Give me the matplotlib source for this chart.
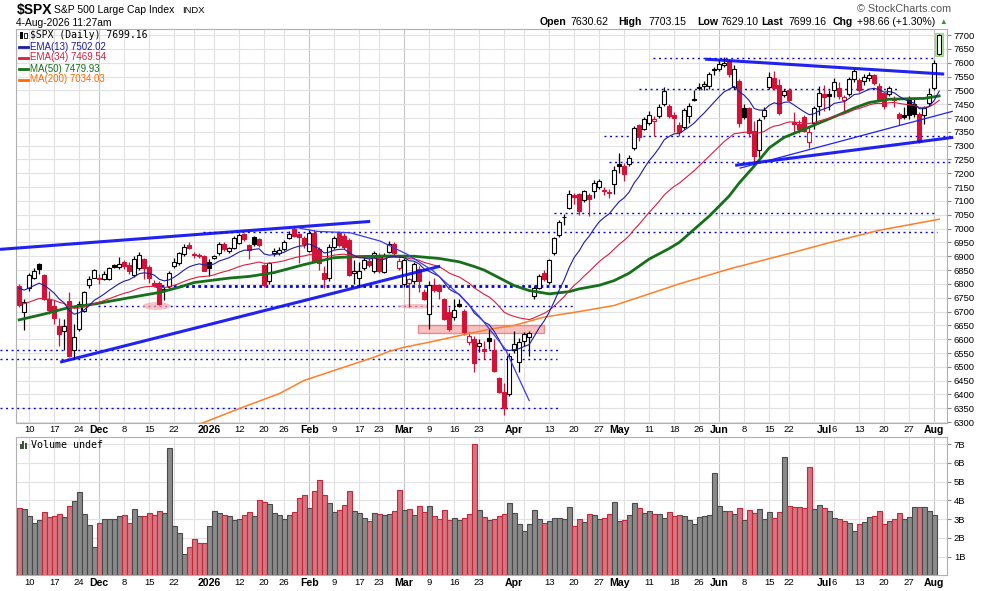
import numpy as np
import pandas as pd
import matplotlib
matplotlib.use('Agg')
import matplotlib.pyplot as plt
from matplotlib.patches import Rectangle, Ellipse
from matplotlib.lines import Line2D

plt.rcParams['font.family'] = ['Liberation Sans', 'DejaVu Sans']

# trading calendar
first_day, last_day = '2025-11-06', '2026-08-04'
holidays = ['2025-11-27', '2025-12-25', '2026-01-01', '2026-01-19', '2026-02-16',
            '2026-04-03', '2026-05-25', '2026-06-19', '2026-07-03']

# daily OHLC
open_ = [6793, 6700, 6787, 6821, 6871, 6831, 6745, 6720, 6649, 6629,
         6739, 6561, 6637, 6701, 6796, 6823, 6822, 6817, 6817, 6870,
         6862, 6880, 6870, 6833, 6859, 6889, 6862, 6805, 6805, 6781,
         6793, 6865, 6874, 6907, 6941, 6908, 6903, 6901, 6881, 6893,
         6910, 6946, 6918, 6929, 6949, 6979, 6940, 6971, 6961, 6868,
         6811, 6910, 6913, 6925, 6967, 6997, 6980, 6965, 6919, 6985,
         6925, 6841, 6820, 6934, 6985, 6975, 6960, 6840, 6823, 6859,
         6882, 6847, 6901, 6844, 6917, 6943, 6859, 6799, 6803, 6811,
         6853, 6772, 6691, 6796, 6795, 6745, 6697, 6679, 6727, 6703,
         6589, 6601, 6577, 6563, 6604, 6562, 6460, 6410, 6403, 6560,
         6517, 6592, 6607, 6757, 6787, 6841, 6808, 6911, 6976, 7043,
         7075, 7120, 7124, 7103, 7120, 7135, 7151, 7138, 7128, 7160,
         7235, 7228, 7232, 7292, 7376, 7360, 7382, 7388, 7408, 7450,
         7444, 7412, 7376, 7368, 7406, 7468, 7508, 7516, 7516, 7576,
         7576, 7592, 7605, 7511, 7534, 7436, 7436, 7352, 7285, 7408,
         7512, 7544, 7520, 7484, 7502, 7385, 7380, 7405, 7312, 7382,
         7442, 7486, 7486, 7502, 7508, 7466, 7488, 7540, 7538, 7535,
         7545, 7556, 7515, 7490, 7488, 7470, 7415, 7410, 7466, 7452,
         7415, 7412, 7454, 7508, 7630.62]
high = [6800, 6745, 6841, 6857, 6874, 6835, 6775, 6740, 6675, 6673,
        6771, 6655, 6737, 6775, 6829, 6853, 6835, 6847, 6861, 6873,
        6897, 6885, 6878, 6901, 6915, 6895, 6868, 6815, 6810, 6790,
        6848, 6895, 6915, 6945, 6950, 6915, 6910, 6905, 6890, 6905,
        6950, 6950, 6935, 6975, 6985, 6985, 6945, 6975, 6965, 6872,
        6880, 6930, 6935, 6960, 6990, 7005, 6985, 6975, 6995, 6995,
        6935, 6865, 6945, 6975, 6990, 6985, 6965, 6885, 6880, 6900,
        6895, 6920, 6910, 6910, 6955, 6950, 6895, 6895, 6820, 6878,
        6865, 6780, 6810, 6820, 6800, 6750, 6715, 6745, 6745, 6710,
        6625, 6610, 6600, 6595, 6637, 6600, 6465, 6440, 6550, 6630,
        6605, 6625, 6630, 6792, 6835, 6850, 6890, 6970, 7030, 7052,
        7140, 7130, 7130, 7140, 7130, 7175, 7180, 7150, 7145, 7228,
        7272, 7238, 7266, 7370, 7380, 7402, 7425, 7406, 7452, 7512,
        7452, 7420, 7385, 7435, 7456, 7502, 7525, 7535, 7565, 7586,
        7610, 7620, 7612, 7592, 7540, 7450, 7440, 7388, 7400, 7440,
        7565, 7570, 7540, 7505, 7510, 7420, 7392, 7410, 7370, 7445,
        7515, 7520, 7500, 7545, 7530, 7482, 7550, 7580, 7545, 7560,
        7565, 7560, 7525, 7495, 7516, 7480, 7420, 7440, 7478, 7470,
        7420, 7445, 7510, 7610, 7703.15]
low = [6715, 6633, 6775, 6817, 6835, 6741, 6690, 6655, 6577, 6561,
       6535, 6529, 6631, 6697, 6787, 6821, 6801, 6813, 6813, 6857,
       6855, 6855, 6835, 6826, 6850, 6817, 6805, 6790, 6722, 6740,
       6785, 6858, 6870, 6900, 6925, 6895, 6895, 6845, 6830, 6890,
       6905, 6920, 6912, 6925, 6945, 6955, 6890, 6938, 6935, 6790,
       6800, 6900, 6905, 6920, 6962, 6970, 6875, 6930, 6915, 6880,
       6850, 6784, 6810, 6925, 6935, 6925, 6828, 6800, 6790, 6850,
       6860, 6840, 6840, 6838, 6910, 6905, 6850, 6790, 6715, 6800,
       6770, 6740, 6637, 6770, 6745, 6670, 6630, 6670, 6715, 6615,
       6580, 6480, 6555, 6530, 6565, 6482, 6405, 6325, 6395, 6550,
       6480, 6575, 6540, 6745, 6780, 6812, 6800, 6905, 6970, 7012,
       7070, 7090, 7050, 7095, 7045, 7110, 7145, 7120, 7112, 7124,
       7202, 7172, 7225, 7285, 7318, 7355, 7375, 7334, 7400, 7445,
       7400, 7348, 7336, 7360, 7383, 7460, 7500, 7500, 7505, 7556,
       7570, 7585, 7550, 7505, 7368, 7395, 7330, 7238, 7258, 7398,
       7505, 7500, 7410, 7475, 7460, 7345, 7345, 7350, 7292, 7362,
       7412, 7424, 7430, 7475, 7470, 7418, 7480, 7530, 7495, 7520,
       7535, 7520, 7460, 7432, 7478, 7440, 7375, 7395, 7395, 7405,
       7310, 7380, 7445, 7500, 7629.10]
close = [6722, 6733, 6833, 6847, 6853, 6745, 6705, 6677, 6619, 6647,
         6541, 6607, 6727, 6769, 6817, 6851, 6817, 6835, 6859, 6862,
         6872, 6864, 6847, 6889, 6905, 6859, 6823, 6797, 6727, 6775,
         6838, 6881, 6910, 6935, 6929, 6905, 6900, 6847, 6859, 6901,
         6946, 6925, 6930, 6967, 6977, 6961, 6922, 6943, 6941, 6796,
         6877, 6920, 6922, 6952, 6979, 6975, 6970, 6945, 6985, 6883,
         6877, 6817, 6934, 6967, 6940, 6932, 6832, 6845, 6847, 6886,
         6870, 6913, 6847, 6901, 6946, 6910, 6883, 6886, 6817, 6871,
         6811, 6745, 6796, 6779, 6775, 6673, 6637, 6706, 6719, 6625,
         6613, 6514, 6587, 6559, 6595, 6484, 6410, 6352, 6541, 6581,
         6589, 6619, 6622, 6787, 6827, 6817, 6887, 6967, 7024, 7041,
         7126, 7113, 7064, 7135, 7106, 7165, 7171, 7135, 7133, 7212,
         7226, 7196, 7256, 7364, 7331, 7396, 7410, 7396, 7440, 7496,
         7408, 7400, 7348, 7428, 7442, 7464, 7514, 7524, 7558, 7574,
         7596, 7600, 7560, 7577, 7382, 7403, 7346, 7264, 7394, 7430,
         7550, 7508, 7418, 7499, 7466, 7378, 7360, 7352, 7350, 7435,
         7492, 7475, 7478, 7532, 7478, 7476, 7540, 7570, 7502, 7547,
         7555, 7528, 7470, 7442, 7508, 7465, 7400, 7405, 7412, 7415,
         7316, 7436, 7486, 7598, 7699.16]
prev_close_start = 6800

# volume in billions (today's volume is undefined)
volume = [3.58, 3.53, 3.17, 2.78, 2.96, 3.37, 3.10, 3.17, 3.26, 3.10,
          3.69, 3.97, 4.45, 3.26, 2.67, 1.50, 2.78, 2.99, 2.99, 2.99,
          3.15, 3.20, 2.78, 3.53, 3.15, 3.15, 3.31, 3.20, 3.42, 3.31,
          6.78, 2.62, 2.24, 1.12, 1.50, 1.92, 1.71, 1.71, 2.62, 3.42,
          3.31, 3.20, 3.15, 2.96, 2.99, 3.20, 3.37, 3.15, 4.00, 3.92,
          3.79, 3.31, 3.20, 2.99, 3.20, 3.37, 4.11, 4.27, 3.58, 4.48,
          5.07, 4.27, 3.84, 3.37, 3.47, 3.74, 4.48, 3.42, 3.31, 3.04,
          2.88, 3.31, 3.26, 3.20, 3.26, 3.42, 4.54, 3.47, 3.53, 3.20,
          3.69, 3.37, 3.69, 3.15, 2.99, 3.47, 2.94, 3.04, 2.94, 3.04,
          3.26, 7.00, 3.47, 3.10, 2.94, 2.99, 3.15, 3.26, 3.84, 3.31,
          2.72, 2.35, 2.72, 3.47, 2.99, 2.78, 2.88, 3.04, 3.04, 2.99,
          3.63, 2.62, 2.99, 2.83, 3.26, 3.20, 2.99, 3.04, 3.26, 3.90,
          2.88, 2.94, 3.20, 3.84, 3.58, 3.31, 3.42, 3.26, 3.26, 3.04,
          3.37, 3.15, 3.20, 3.15, 2.94, 2.72, 3.10, 3.15, 3.20, 5.45,
          3.69, 3.42, 3.42, 3.26, 3.58, 2.94, 3.47, 3.31, 3.53, 2.99,
          3.37, 3.04, 3.37, 6.30, 3.69, 3.63, 3.63, 3.58, 5.77, 3.53,
          3.74, 3.58, 3.42, 3.04, 2.99, 2.88, 2.78, 2.35, 2.72, 2.83,
          3.10, 3.15, 3.42, 2.72, 2.88, 2.99, 3.31, 2.99, 3.10, 3.63,
          3.63, 3.63, 3.42, 3.20, np.nan]

# indicator starting values and moving-average readings (day index, value)
ema13_start, ema34_start = 6785, 6728
ma50_day = [0, 5, 10, 15, 22, 28, 32, 35, 42, 46, 51, 57, 63, 68, 74, 79, 84, 88,
            91, 93, 96, 99, 102, 106, 110, 112, 116, 119, 122, 126, 130, 132, 138,
            142, 144, 147, 150, 153, 156, 160, 164, 167, 170, 174, 178, 181, 184]
ma50_val = [6670, 6691, 6715, 6727, 6750, 6769, 6788, 6805, 6821, 6827, 6841, 6870,
            6895, 6899, 6901, 6900, 6892, 6880, 6863, 6850, 6822, 6794, 6776, 6764,
            6772, 6782, 6795, 6812, 6839, 6890, 6928, 6950, 7045, 7118, 7165, 7226,
            7292, 7330, 7352, 7382, 7412, 7436, 7456, 7468, 7470, 7471, 7480]
ma200_day = [36, 44, 52, 57, 64, 71, 74, 77, 82, 88, 94, 99, 105, 112, 119, 122,
             132, 142, 154, 162, 172, 184]
ma200_val = [6292, 6349, 6403, 6451, 6493, 6535, 6556, 6571, 6589, 6613, 6636, 6650,
             6680, 6700, 6722, 6740, 6800, 6854, 6910, 6949, 6994, 7034]

# hand drawn annotations (day index, price)
thick_lines = [[(-3.83, 6925), (70.2, 7026)],
               [(8.2, 6517), (84.2, 6864)],
               [(137.2, 7613), (185.0, 7559)],
               [(143.2, 7229), (186.8, 7330)]]
thin_line = [(144.2, 7219), (186.6, 7424)]
arc_day = [56.2, 59.6, 66.2, 72.2, 77.6, 82.8, 88.2, 92.2, 97.2, 102.0]
arc_price = [7001, 6990, 6985, 6955, 6907, 6847, 6757, 6679, 6565, 6378]
# (price, first day, last day, heavy)
level_lines = [(7616, 126.8, 182.8, False), (7504, 124.0, 176.2, False),
               (7334, 117.0, 186.8, False), (7241, 118.0, 186.8, False),
               (7055, 107.0, 183.5, False), (6989, 36.8, 183.5, False),
               (6793, 27.2, 110.2, True), (6719, 15.8, 111.2, False),
               (6561, -3.83, 108.2, False), (6528, -3.83, 107.6, False),
               (6351, -3.83, 107.8, False)]

tick_dates = ['2025-11-10', '2025-11-17', '2025-11-24', '2025-12-01', '2025-12-08',
              '2025-12-15', '2025-12-22', '2026-01-02', '2026-01-12', '2026-01-20',
              '2026-01-26', '2026-02-02', '2026-02-09', '2026-02-17', '2026-02-23',
              '2026-03-02', '2026-03-09', '2026-03-16', '2026-03-23', '2026-04-01',
              '2026-04-13', '2026-04-20', '2026-04-27', '2026-05-01', '2026-05-11',
              '2026-05-18', '2026-05-26', '2026-06-01', '2026-06-08', '2026-06-15',
              '2026-06-22', '2026-07-01', '2026-07-06', '2026-07-13', '2026-07-20',
              '2026-07-27', '2026-08-03']
tick_text = ['10', '17', '24', 'Dec', '8', '15', '22', '2026', '12', '20', '26', 'Feb',
             '9', '17', '23', 'Mar', '9', '16', '23', 'Apr', '13', '20', '27', 'May',
             '11', '18', '26', 'Jun', '8', '15', '22', 'Jul', '6', '13', '20', '27', 'Aug']

days = pd.bdate_range(first_day, last_day)
days = days[~days.isin(pd.to_datetime(holidays))]
x = np.arange(len(days))
o, h, l, c = (np.array(v, float) for v in (open_, high, low, close))
prev = np.concatenate([[prev_close_start], c[:-1]])

def ema(values, span, start):
    k = 2 / (span + 1)
    out = [start]
    for v in values[1:]:
        out.append(out[-1] + k * (v - out[-1]))
    return np.array(out)

ema13 = ema(c, 13, ema13_start)
ema34 = ema(c, 34, ema34_start)

W, H = 990, 591
fig = plt.figure(figsize=(W / 100, H / 100), dpi=100)
fig.patch.set_facecolor('white')

def rect(x0, y0, x1, y1):
    return [x0 / W, 1 - y1 / H, (x1 - x0) / W, (y1 - y0) / H]

def ftext(px, py, s, **kw):
    kw.setdefault('va', 'center')
    fig.text(px / W, 1 - py / H, s, **kw)

ax = fig.add_axes(rect(16, 29, 947, 422.7))
axv = fig.add_axes(rect(16, 436.7, 947, 575.4))

pos = {d: i for i, d in enumerate(days)}
tick_pos = [pos[pd.Timestamp(d)] for d in tick_dates]
week_start = [i for i in range(1, len(days)) if days[i].week != days[i - 1].week]
month_start = [i for i in range(1, len(days)) if days[i].month != days[i - 1].month]

for a in (ax, axv):
    a.set_xlim(-0.634, 185.56)
    for i in week_start:
        a.axvline(i, color='#c4c4c4' if i in month_start else '#e0e0e0', lw=0.8, zorder=0)
    a.set_xticks(tick_pos)
    a.set_xticklabels(tick_text)
    for lbl, txt in zip(a.get_xticklabels(), tick_text):
        if not txt.isdigit() or txt == '2026':
            lbl.set_fontweight('bold')
            lbl.set_fontsize(7.6)
        else:
            lbl.set_fontsize(6.8)
    a.tick_params(axis='x', length=0, pad=2)
    a.yaxis.tick_right()
    a.tick_params(axis='y', length=3, color='#888888', labelsize=6.8, pad=2)
    for s in a.spines.values():
        s.set_color('#b0b0b0')
        s.set_linewidth(0.8)

# price panel
ax.set_ylim(6298, 7722)
ax.set_yticks(np.arange(6300, 7701, 50))
ax.grid(axis='y', color='#e2e2e2', lw=0.8, zorder=0)
ax.set_axisbelow(True)

for price, d0, d1, heavy in level_lines:
    ax.plot([d0, d1], [price, price], color='#0000ee', clip_on=False, zorder=1,
            lw=2.0 if heavy else 1.0, dashes=(1, 1.2) if heavy else (1.4, 2.6))

ax.add_patch(Rectangle((79.8, 6622.5), 25.2, 30, facecolor='#f4a0a0', alpha=0.65,
                       edgecolor='#e06060', lw=1, zorder=1.5))
ax.add_patch(Ellipse((27.5, 6720), 5.6, 28, facecolor='#f4a8a8', alpha=0.7,
                     edgecolor='none', zorder=1.5))
ax.add_patch(Ellipse((79.4, 6719), 7.2, 17, facecolor='#f4a8a8', alpha=0.7,
                     edgecolor='none', zorder=1.5))
ax.add_patch(Rectangle((183.15, 7623), 1.7, 85, facecolor='#b8f0a0',
                       edgecolor='#98d880', lw=0.8, zorder=1.6))

# candles
red, black = '#d21237', '#000000'
edge = np.where(c < prev, red, black)
face = np.where(c >= o, 'white', edge)
ax.vlines(x, l, h, colors=edge, lw=0.9, zorder=2)
body_lo = np.minimum(o, c)
body_h = np.maximum(np.abs(c - o), 2.5)
ax.bar(x, body_h, bottom=body_lo, width=0.74, color=face, edgecolor=edge,
       linewidth=0.8, zorder=2.2)

ax.plot(ma200_day, ma200_val, color='#ff7f27', lw=1.1, zorder=3)
ax.plot(ma50_day, ma50_val, color='#16701a', lw=2.0, zorder=3)
ax.plot(x, ema34, color='#d81e40', lw=0.8, zorder=3.1)
ax.plot(x, ema13, color='#1c1ca0', lw=0.8, zorder=3.2)

for seg in thick_lines:
    (x0, y0), (x1, y1) = seg
    ax.plot([x0, x1], [y0, y1], color='#0a0af0', lw=2.2, alpha=0.9,
            solid_capstyle='butt', clip_on=False, zorder=4)
(x0, y0), (x1, y1) = thin_line
ax.plot([x0, x1], [y0, y1], color='#2020f0', lw=0.9, clip_on=False, zorder=4)
ax.plot(arc_day, arc_price, color='#3a3af5', lw=0.9, zorder=4)

# volume panel
axv.set_ylim(0, 7.4)
axv.set_yticks(range(1, 8))
axv.set_yticklabels([f'{k}B' for k in range(1, 8)])
axv.grid(axis='y', color='#e2e2e2', lw=0.8, zorder=0)
axv.set_axisbelow(True)
vol_up = c >= prev
axv.bar(x, volume, width=1.0, color=np.where(vol_up, '#8a8a8a', '#d6747f'),
        edgecolor=np.where(vol_up, '#4a4a4a', '#c2283a'), linewidth=0.8, zorder=2)

# header
ftext(17, 10, '$SPX', fontsize=10, fontweight='bold')
ftext(54, 10, 'S&P 500 Large Cap Index', fontsize=7.5)
ftext(182, 10.5, 'INDX', fontsize=6.8)
ftext(16, 23, '4-Aug-2026 11:27am', fontsize=7.4)
ftext(857, 9, '\u00a9 StockCharts.com', fontsize=7.8, color='#555555')
head = [(540, 'Open', True), (570, '7630.62', False), (618, 'High', True),
        (648, '7703.15', False), (697, 'Low', True), (720, '7629.10', False),
        (761, 'Last', True), (788, '7699.16', False), (833, 'Chg', True),
        (857, '+98.66 (+1.30%)', False)]
for px, s, b in head:
    ftext(px, 22, s, fontsize=7.6, fontweight='bold' if b else 'normal')
ftext(939, 22, '\u25b2', fontsize=5.5, color='#2a9a2a')

# legend
ftext(30, 35, '$SPX (Daily) 7699.16', fontsize=7.0, family='DejaVu Sans Mono')
fig.add_artist(Rectangle((20 / W, 1 - 39 / H), 2.5 / W, 7 / H, facecolor='black',
                         transform=fig.transFigure))
fig.add_artist(Rectangle((24 / W, 1 - 38 / H), 2.5 / W, 5 / H, facecolor='white',
                         edgecolor='black', lw=0.6, transform=fig.transFigure))
legend = [('EMA(13) 7502.02', '#1c1ca0'), ('EMA(34) 7469.54', '#d81e40'),
          ('MA(50) 7479.93', '#16701a'), ('MA(200) 7034.03', '#ff6a00')]
for k, (s, col) in enumerate(legend):
    yy = 46.5 + 11 * k
    fig.add_artist(Line2D([19 / W, 28 / W], [1 - yy / H, 1 - yy / H], color=col, lw=2,
                          transform=fig.transFigure))
    ftext(30, yy, s, fontsize=7.0, color=col)
ftext(31, 445, 'Volume undef', fontsize=7.2, family='DejaVu Sans Mono')
for k, hh in enumerate([5, 8, 6]):
    fig.add_artist(Rectangle(((19.5 + 2.7 * k) / W, 1 - 449 / H), 2 / W, hh / H,
                             facecolor='#3a5a3a', transform=fig.transFigure))

fig.savefig('out.png', dpi=100, facecolor='white')
